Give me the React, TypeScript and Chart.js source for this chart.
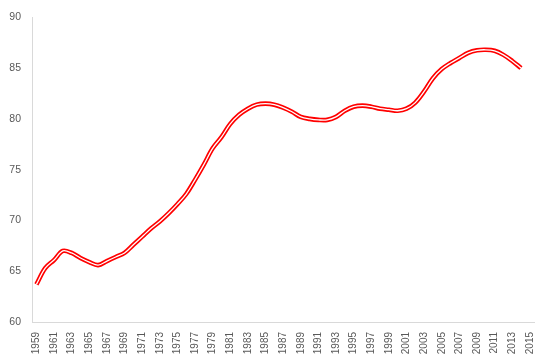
import React, { useEffect, useRef } from "react";
import { Chart, registerables } from "chart.js";

Chart.register(...registerables);

const years: string[] = [];
for (let y = 1959; y <= 2015; y++) years.push(String(y));

const values: number[] = [
  63.7, 65.3, 66.1, 67.0, 66.8, 66.3, 65.9, 65.6, 66.0, 66.4,
  66.8, 67.6, 68.4, 69.2, 69.9, 70.7, 71.6, 72.6, 74.0, 75.5,
  77.1, 78.2, 79.5, 80.4, 81.0, 81.4, 81.5, 81.4, 81.1, 80.7,
  80.2, 80.0, 79.9, 79.9, 80.2, 80.8, 81.2, 81.3, 81.2, 81.0,
  80.9, 80.8, 81.0, 81.6, 82.7, 84.0, 84.9, 85.5, 86.0, 86.5,
  86.75, 86.8, 86.7, 86.3, 85.7, 85.0,
];

const yMin = 60;
const yMax = 90;
const yStep = 5;

export default function App() {
  const ref = useRef<HTMLCanvasElement | null>(null);
  useEffect(() => {
    if (!ref.current) return;
    const font = { family: "'Liberation Sans', Arial, sans-serif", size: 10.5 };
    const chart = new Chart(ref.current, {
      type: "line",
      data: {
        labels: years,
        datasets: [
          {
            data: values,
            borderColor: "#ffffff",
            borderWidth: 1.3,
            pointRadius: 0,
            tension: 0.35,
            fill: false,
          },
          {
            data: values,
            borderColor: "#ff0000",
            borderWidth: 4.6,
            pointRadius: 0,
            tension: 0.35,
            fill: false,
          },
        ],
      },
      options: {
        animation: false,
        responsive: false,
        layout: { padding: { top: 15, right: 15, bottom: 0, left: 0 } },
        plugins: { legend: { display: false }, tooltip: { enabled: false } },
        scales: {
          x: {
            offset: true,
            grid: { display: false, drawTicks: false },
            border: { display: true, color: "#d9d9d9", width: 1 },
            ticks: {
              autoSkip: false,
              maxRotation: 90,
              minRotation: 90,
              padding: 10,
              color: "#595959",
              font: { ...font, size: 10 },
              callback: (_v: any, i: number) => (i % 2 === 0 ? years[i] : ""),
            },
            afterFit: (s: any) => {
              s.height = 42;
            },
          },
          y: {
            min: yMin,
            max: yMax,
            grid: { display: false, drawTicks: false },
            border: { display: true, color: "#d9d9d9", width: 1 },
            ticks: {
              stepSize: yStep,
              padding: 11,
              color: "#595959",
              font,
            },
            afterFit: (s: any) => {
              s.width = 32;
            },
          },
        },
      },
    });
    return () => chart.destroy();
  }, []);
  return (
    <div style={{ position: "absolute", left: 0, top: 0, width: 552, height: 364, background: "#fff" }}>
      <canvas ref={ref} width={552} height={364} style={{ width: 552, height: 364 }} />
    </div>
  );
}
